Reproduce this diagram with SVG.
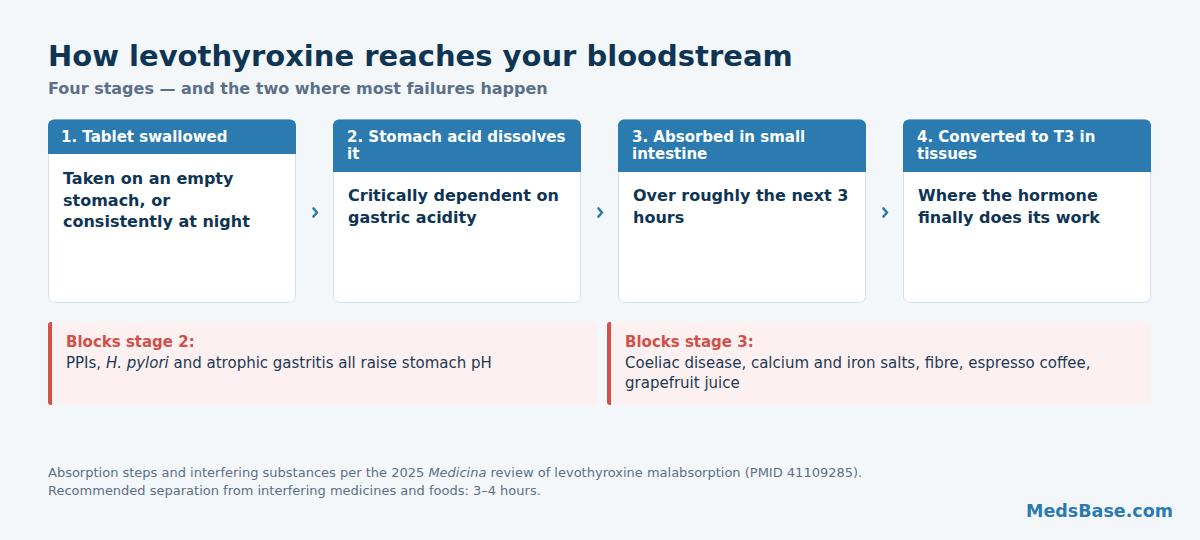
<svg xmlns="http://www.w3.org/2000/svg" width="1200" height="540" viewBox="0 0 1200 540">
  <style>
    text { font-family: "DejaVu Sans", "Liberation Sans", sans-serif; }
    .title { font-size: 29px; font-weight: bold; fill: #0f3554; }
    .sub { font-size: 16px; font-weight: bold; fill: #5b7088; }
    .card { fill: #ffffff; stroke: #d3e1eb; stroke-width: 1; }
    .hdr { fill: #2c7bb0; }
    .htxt { font-size: 15px; font-weight: bold; fill: #ffffff; }
    .btxt { font-size: 16px; font-weight: bold; fill: #0f3554; }
    .chev { fill: none; stroke: #2c7bb0; stroke-width: 2.6; stroke-linecap: round; stroke-linejoin: round; }
    .blk { fill: #fdf0f0; }
    .blkbar { fill: #d0504a; }
    .bhead { font-size: 15px; font-weight: bold; fill: #d0504a; }
    .bbody { font-size: 15px; fill: #1b3a56; }
    .foot { font-size: 13px; fill: #5b7088; }
    .brand { font-size: 17.5px; font-weight: bold; fill: #2c7bb0; }
  </style>
  <rect width="1200" height="540" fill="#f3f7fa"/>

  <text class="title" x="48" y="66">How levothyroxine reaches your bloodstream</text>
  <text class="sub" x="48" y="94">Four stages — and the two where most failures happen</text>

  <g id="stage1">
    <rect class="card" x="48.5" y="119.5" width="247" height="183" rx="6"/>
    <path class="hdr" d="M48,154 V125.5 A6,6 0 0 1 54,119.5 H290 A6,6 0 0 1 296,125.5 V154 Z"/>
    <text class="htxt" x="61" y="142">1. Tablet swallowed</text>
    <text class="btxt" x="63" y="184">Taken on an empty</text>
    <text class="btxt" x="63" y="205.5">stomach, or</text>
    <text class="btxt" x="63" y="227">consistently at night</text>
  </g>

  <g id="stage2">
    <rect class="card" x="333.5" y="119.5" width="247" height="183" rx="6"/>
    <path class="hdr" d="M333,172 V125.5 A6,6 0 0 1 339,119.5 H575 A6,6 0 0 1 581,125.5 V172 Z"/>
    <text class="htxt" x="347" y="142">2. Stomach acid dissolves</text>
    <text class="htxt" x="347" y="159">it</text>
    <text class="btxt" x="348" y="201">Critically dependent on</text>
    <text class="btxt" x="348" y="222.5">gastric acidity</text>
  </g>

  <g id="stage3">
    <rect class="card" x="618.5" y="119.5" width="247" height="183" rx="6"/>
    <path class="hdr" d="M618,172 V125.5 A6,6 0 0 1 624,119.5 H860 A6,6 0 0 1 866,125.5 V172 Z"/>
    <text class="htxt" x="632" y="142">3. Absorbed in small</text>
    <text class="htxt" x="632" y="159">intestine</text>
    <text class="btxt" x="633" y="201">Over roughly the next 3</text>
    <text class="btxt" x="633" y="222.5">hours</text>
  </g>

  <g id="stage4">
    <rect class="card" x="903.5" y="119.5" width="247" height="183" rx="6"/>
    <path class="hdr" d="M903,172 V125.5 A6,6 0 0 1 909,119.5 H1145 A6,6 0 0 1 1151,125.5 V172 Z"/>
    <text class="htxt" x="917" y="142">4. Converted to T3 in</text>
    <text class="htxt" x="917" y="159">tissues</text>
    <text class="btxt" x="918" y="201">Where the hormone</text>
    <text class="btxt" x="918" y="222.5">finally does its work</text>
  </g>

  <g id="connectors">
    <path class="chev" d="M313.5,208.5 L317,212.5 L313.5,216.5"/>
    <path class="chev" d="M598.5,208.5 L602,212.5 L598.5,216.5"/>
    <path class="chev" d="M883.5,208.5 L887,212.5 L883.5,216.5"/>
  </g>

  <g id="block2">
    <rect class="blk" x="48" y="322" width="549" height="83" rx="3"/>
    <path class="blkbar" d="M51,322 H52 V405 H51 A3,3 0 0 1 48,402 V325 A3,3 0 0 1 51,322 Z"/>
    <text class="bhead" x="66" y="347">Blocks stage 2:</text>
    <text class="bbody" x="66" y="368">PPIs, <tspan font-style="italic">H. pylori</tspan> and atrophic gastritis all raise stomach pH</text>
  </g>

  <g id="block3">
    <rect class="blk" x="607" y="322" width="544" height="83" rx="3"/>
    <path class="blkbar" d="M610,322 H611 V405 H610 A3,3 0 0 1 607,402 V325 A3,3 0 0 1 610,322 Z"/>
    <text class="bhead" x="625" y="347">Blocks stage 3:</text>
    <text class="bbody" x="625" y="368">Coeliac disease, calcium and iron salts, fibre, espresso coffee,</text>
    <text class="bbody" x="625" y="388">grapefruit juice</text>
  </g>

  <text class="foot" x="48" y="477">Absorption steps and interfering substances per the 2025 <tspan font-style="italic">Medicina</tspan> review of levothyroxine malabsorption (PMID 41109285).</text>
  <text class="foot" x="48" y="495">Recommended separation from interfering medicines and foods: 3–4 hours.</text>
  <text class="brand" x="1173" y="517" text-anchor="end">MedsBase.com</text>
</svg>
